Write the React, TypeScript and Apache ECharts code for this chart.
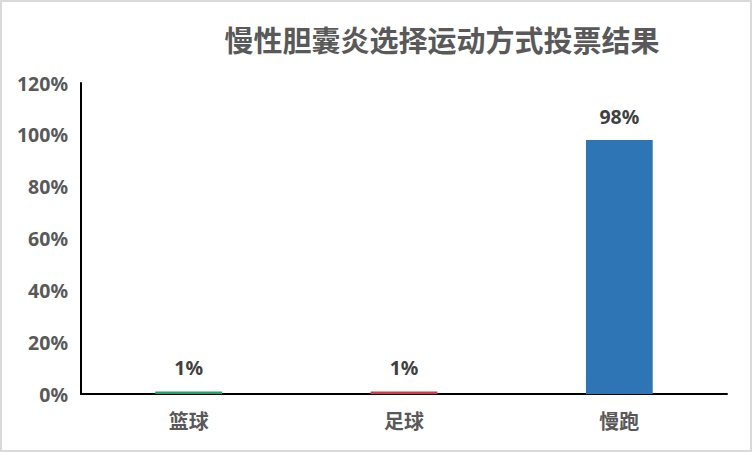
import React, { useRef, useEffect } from 'react';
import * as echarts from 'echarts';

const categories = ['篮球', '足球', '慢跑'];
const votes = [0.01, 0.01, 0.98];
const barColors = ['#21a06f', '#cf3a4c', '#2e75b6'];

const FONT = '"Noto Sans", "Noto Sans CJK SC", sans-serif';
const pct = (v: number) => `${Math.round(v * 100)}%`;

const App: React.FC = () => {
  const chartRef = useRef<HTMLDivElement>(null);

  useEffect(() => {
    document.body.style.margin = '0';
    if (!chartRef.current) return;
    const chart = echarts.init(chartRef.current, undefined, { renderer: 'svg' });

    const options: echarts.EChartsOption = {
      animation: false,
      backgroundColor: '#ffffff',
      title: {
        text: '慢性胆囊炎选择运动方式投票结果',
        left: 437,
        top: 21,
        textAlign: 'center',
        textStyle: {
          fontFamily: FONT,
          fontSize: 29,
          fontWeight: 'bold',
          color: '#595959',
        },
      },
      grid: { left: 81, right: 25, top: 83, bottom: 58 },
      xAxis: {
        type: 'category',
        data: categories,
        axisLine: { lineStyle: { color: '#000', width: 2 } },
        axisTick: { show: false },
        axisLabel: {
          margin: 17,
          fontFamily: FONT,
          fontSize: 20,
          fontWeight: 'bold',
          color: '#595959',
        },
      },
      yAxis: {
        type: 'value',
        min: 0,
        max: 1.2,
        interval: 0.2,
        axisLine: { show: true, lineStyle: { color: '#000', width: 2 } },
        axisTick: { show: false },
        splitLine: { show: false },
        axisLabel: {
          margin: 13,
          formatter: (v: number) => pct(v),
          fontFamily: FONT,
          fontSize: 19.5,
          fontWeight: 'bold',
          color: '#595959',
        },
      },
      series: [
        {
          type: 'bar',
          barWidth: '31%',
          data: votes.map((v, i) => ({ value: v, itemStyle: { color: barColors[i] } })),
          label: {
            show: true,
            position: 'top',
            distance: 14,
            formatter: (p: any) => pct(p.value),
            fontFamily: FONT,
            fontSize: 19.5,
            fontWeight: 'bold',
            color: '#404040',
          },
        },
      ],
    };

    chart.setOption(options);
    return () => {
      chart.dispose();
    };
  }, []);

  return (
    <div style={{ position: 'relative', width: 752, height: 452 }}>
      <div ref={chartRef} style={{ position: 'absolute', left: 0, top: 0, width: 752, height: 452 }} />
      <div
        style={{
          position: 'absolute',
          left: 0,
          top: 0,
          width: 752,
          height: 452,
          boxSizing: 'border-box',
          border: '2px solid #d9d9d9',
          pointerEvents: 'none',
        }}
      />
    </div>
  );
};

export default App;
